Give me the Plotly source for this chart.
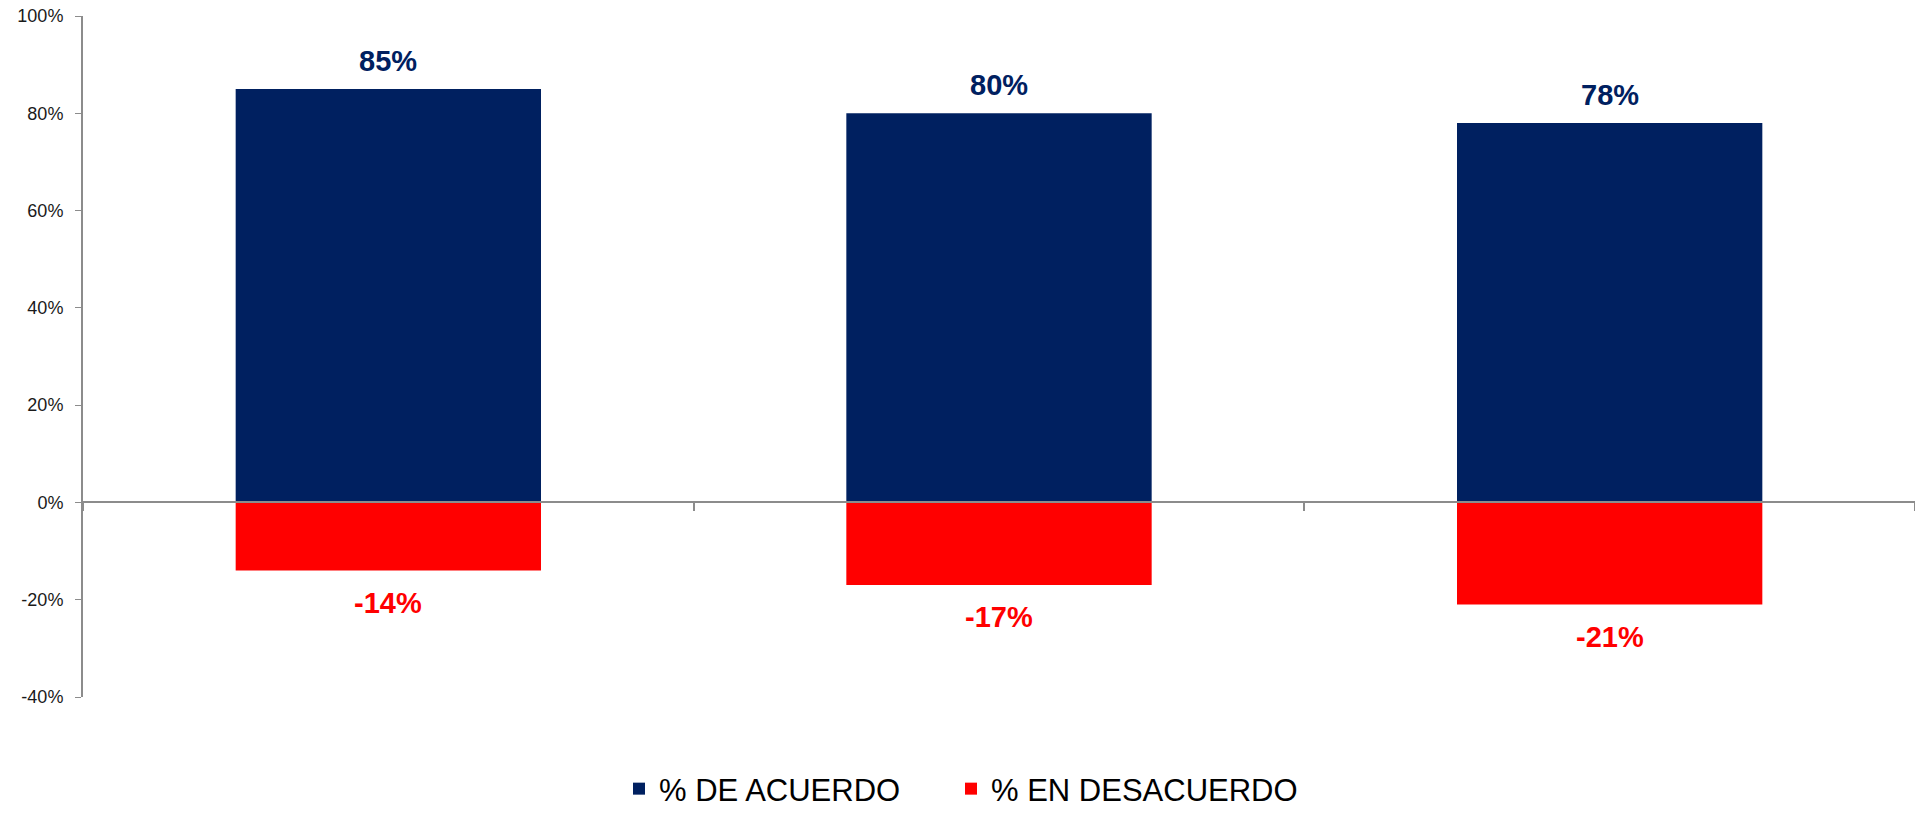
import plotly.graph_objects as go

categories = ["Grupo 1", "Grupo 2", "Grupo 3"]
acuerdo = [85, 80, 78]
desacuerdo = [-14, -17, -21]
series_names = ["% DE ACUERDO", "% EN DESACUERDO"]
y_ticks = [-40, -20, 0, 20, 40, 60, 80, 100]
y_tick_labels = ["-40%", "-20%", "0%", "20%", "40%", "60%", "80%", "100%"]

NAVY = "#002060"
RED = "#FF0000"
FONT = "Liberation Sans, Arial, sans-serif"
W, H = 1915, 816

fig = go.Figure()
fig.add_trace(go.Bar(x=categories, y=acuerdo, name=series_names[0], legend="legend",
                     marker=dict(color=NAVY, line=dict(width=0)), width=0.5))
fig.add_trace(go.Bar(x=categories, y=desacuerdo, name=series_names[1], legend="legend2",
                     marker=dict(color=RED, line=dict(width=0)), width=0.5))

annotations = []
for c, v in zip(categories, acuerdo):
    annotations.append(dict(x=c, y=v, text=f"{v}%", showarrow=False, yanchor="middle",
                            yshift=28, font=dict(family=FONT, size=29, color=NAVY, weight="bold")))
for c, v in zip(categories, desacuerdo):
    annotations.append(dict(x=c, y=v, text=f"{v}%", showarrow=False, yanchor="middle",
                            yshift=-32, font=dict(family=FONT, size=29, color=RED, weight="bold")))

legend_common = dict(orientation="h", xanchor="left", xref="container",
                     y=0, yanchor="bottom", yref="container",
                     font=dict(family=FONT, size=31, color="#000000"),
                     itemwidth=30, bgcolor="rgba(0,0,0,0)")

fig.update_layout(
    width=W, height=H,
    margin=dict(l=83, r=0, t=16, b=119, autoexpand=False),
    barmode="overlay",
    plot_bgcolor="white", paper_bgcolor="white",
    annotations=annotations,
    showlegend=True,
    legend=dict(x=619 / W, **legend_common),
    legend2=dict(x=951 / W, **legend_common),
    xaxis=dict(type="category", showticklabels=False, showgrid=False, zeroline=False,
               showline=True, linecolor="#8c8c8c", linewidth=2, automargin=False,
               ticks="outside", tickson="boundaries", ticklen=8, tickcolor="#8c8c8c", tickwidth=1.5,
               anchor="free", position=40 / 140, range=[-0.5, 2.5]),
    yaxis=dict(range=[-40, 100], tickmode="array", tickvals=y_ticks, ticktext=y_tick_labels,
               showgrid=False, zeroline=False, showline=True, linecolor="#8c8c8c", linewidth=2,
               ticks="outside", ticklen=6, tickcolor="#8c8c8c", automargin=False,
               ticklabelstandoff=8,
               tickfont=dict(family=FONT, size=18, color="#1a1a1a")),
)

fig.write_html("out.html", config={"displayModeBar": False},
               post_script="document.body.style.margin='0';")
